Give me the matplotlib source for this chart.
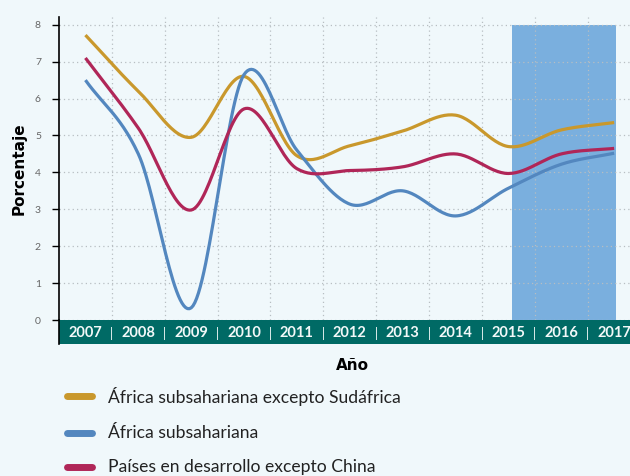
import numpy as np
import matplotlib.pyplot as plt
from matplotlib.lines import Line2D

years = [2007, 2008, 2009, 2010, 2011, 2012, 2013, 2014, 2015, 2016, 2017]
africa_sin_sa = [7.72, 6.2, 4.95, 6.6, 4.45, 4.72, 5.12, 5.55, 4.7, 5.15, 5.35]
africa_sub = [6.5, 4.5, 0.33, 6.65, 4.6, 3.14, 3.5, 2.82, 3.57, 4.22, 4.52]
desarrollo_sin_china = [7.1, 5.2, 2.98, 5.72, 4.1, 4.05, 4.15, 4.5, 3.97, 4.5, 4.65]
labels = ['África subsahariana excepto Sudáfrica', 'África subsahariana',
          'Países en desarrollo excepto China']
colors = ['#C9982C', '#5387BF', '#B02658']
proj_start, proj_end = 2015, 2017

bg = '#F0F8FB'
teal = '#006A65'
narrow = ['Lato', 'DejaVu Sans']


def smooth(xs, ys, n=30):
    # Catmull-Rom curve through the points, like a spreadsheet "smoothed line"
    p = np.column_stack([xs, ys]).astype(float)
    p = np.vstack([p[0] * 2 - p[1], p, p[-1] * 2 - p[-2]])
    out = []
    t = np.linspace(0, 1, n)[:, None]
    for i in range(1, len(p) - 2):
        p0, p1, p2, p3 = p[i - 1], p[i], p[i + 1], p[i + 2]
        m1 = (p2 - p0) / 2
        m2 = (p3 - p1) / 2
        h00 = 2 * t**3 - 3 * t**2 + 1
        h10 = t**3 - 2 * t**2 + t
        h01 = -2 * t**3 + 3 * t**2
        h11 = t**3 - t**2
        out.append(h00 * p1 + h10 * m1 + h01 * p2 + h11 * m2)
    c = np.vstack(out)
    return c[:, 0], c[:, 1]


fig = plt.figure(figsize=(6.3, 4.76), dpi=100, facecolor=bg)
ax = fig.add_axes([59 / 630, 156 / 476, 1 - 59 / 630, 303 / 476])
ax.set_facecolor(bg)
ax.set_xlim(2006.5, 2017.3)
ax.set_ylim(0, 8.21)

ax.axvspan(proj_start + 0.07, proj_end + 0.04, ymin=0, ymax=8 / 8.21, color='#7AAFDE', zorder=1, lw=0)

for series, col in zip([africa_sin_sa, africa_sub, desarrollo_sin_china], colors):
    sx, sy = smooth(years, series)
    ax.plot(sx, sy, color=col, lw=2.3, solid_capstyle='butt', zorder=3)

ax.set_yticks(range(0, 9))
ax.set_xticks([y + 0.5 for y in years[:-1]])
ax.set_xticklabels([])
ax.grid(True, color='#B8BEC2', ls=(0, (1, 2.5)), lw=0.9, zorder=0)
ax.tick_params(axis='x', length=0)
ax.tick_params(axis='y', length=5, width=1, color='black', labelsize=7.5,
               labelcolor='#666666', pad=8)
for lbl in ax.get_yticklabels():
    lbl.set_family(narrow)
for s in ['top', 'right', 'bottom']:
    ax.spines[s].set_visible(False)
ax.spines['left'].set_linewidth(1.2)
ax.set_ylabel('Porcentaje', fontsize=11, fontweight='bold', labelpad=6)

# year band under the plot
band = fig.add_axes([59 / 630, 132 / 476, 1 - 59 / 630, 24 / 476])
band.set_facecolor(teal)
band.set_xlim(ax.get_xlim())
band.set_ylim(0, 1)
band.set_xticks([])
band.set_yticks([])
for s in ['top', 'right', 'bottom']:
    band.spines[s].set_visible(False)
band.spines['left'].set_linewidth(1.2)
for y in years:
    band.text(y, 0.45, str(y), color='#F2F8F8', fontsize=10.5, fontweight='bold',
              ha='center', va='center', family=narrow)
for y in years[:-1]:
    band.text(y + 0.5, 0.45, '|', color='#F2F8F8', fontsize=9,
              ha='center', va='center', family=narrow)

fig.text(352 / 630, 1 - 366 / 476, 'Año', fontsize=11, fontweight='bold',
         ha='center', va='center')

for i, (lab, col) in enumerate(zip(labels, colors)):
    yy = 1 - [396, 433, 467][i] / 476
    fig.add_artist(Line2D([67 / 630, 92 / 630], [yy, yy], color=col, lw=5,
                          solid_capstyle='round', transform=fig.transFigure))
    fig.text(108 / 630, yy, lab, fontsize=12.6, ha='left', va='center',
             color='#222222', family=narrow)

fig.savefig('out.png', dpi=100, facecolor=bg)
